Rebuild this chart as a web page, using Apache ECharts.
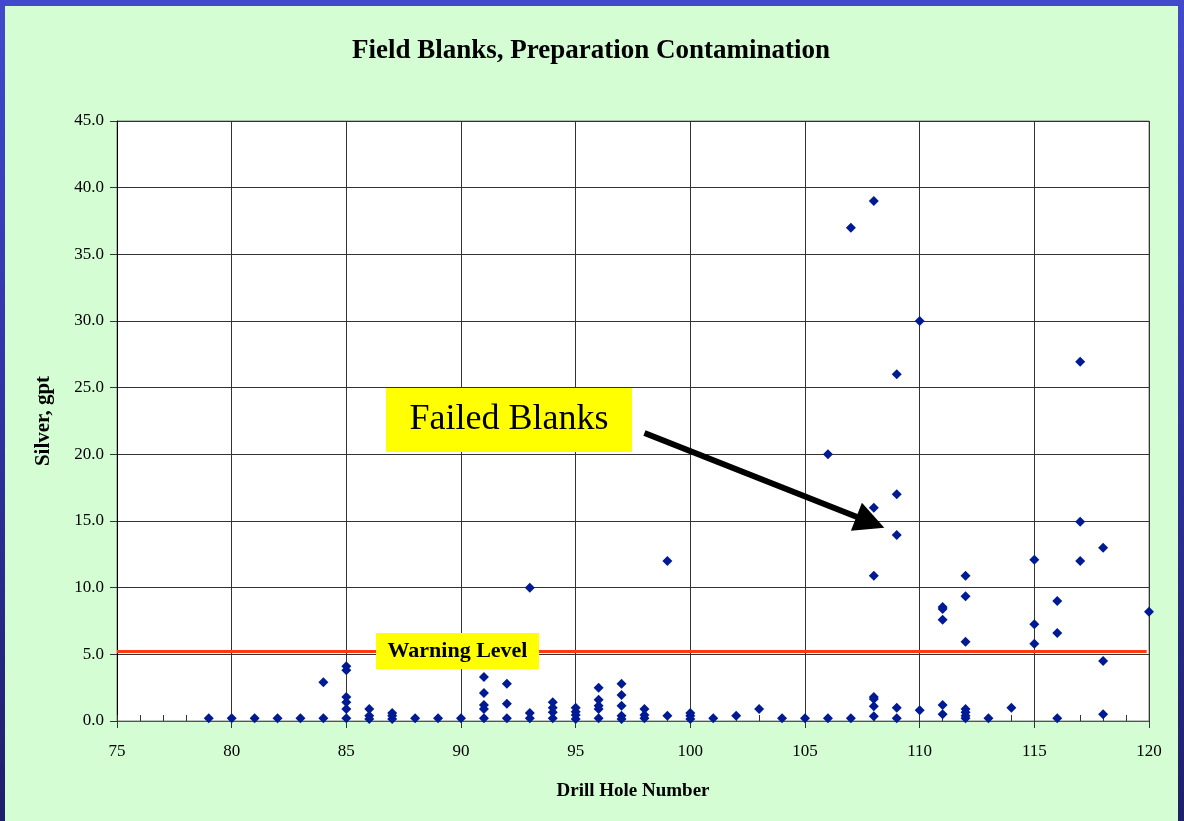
<!DOCTYPE html>
<html>
<head>
<meta charset="utf-8">
<script src="https://cdn.jsdelivr.net/npm/echarts@6/dist/echarts.min.js"></script>
<style>
  html, body { margin: 0; padding: 0; width: 1184px; height: 821px; overflow: hidden;
    background: linear-gradient(to bottom, #4249cc 0%, #3036a6 45%, #1e1f6a 100%); }
  #chart { position: absolute; left: 5px; top: 6px; width: 1173px; height: 815px; }
</style>
</head>
<body>
<div id="chart"></div>
<script>
// ---- data ----
const holeNumbers = [
  79, 80, 81, 82, 83,
  84, 84,
  85, 85, 85, 85, 85, 85,
  86, 86, 86,
  87, 87, 87,
  88, 89, 90,
  91, 91, 91, 91, 91,
  92, 92, 92,
  93, 93, 93,
  94, 94, 94, 94,
  95, 95, 95, 95,
  96, 96, 96, 96, 96,
  97, 97, 97, 97, 97,
  98, 98, 98,
  99, 99,
  100, 100, 100,
  101, 102, 103, 104, 105,
  106, 106,
  107, 107,
  108, 108, 108, 108, 108, 108, 108,
  109, 109, 109, 109, 109,
  110, 110,
  111, 111, 111, 111, 111,
  112, 112, 112, 112, 112, 112, 112,
  113, 114,
  115, 115, 115,
  116, 116, 116,
  117, 117, 117,
  118, 118, 118,
  120
];
const silverGpt = [
  0.2, 0.2, 0.2, 0.2, 0.2,
  2.9, 0.2,
  4.1, 3.8, 1.8, 1.4, 0.9, 0.2,
  0.9, 0.4, 0.15,
  0.6, 0.4, 0.15,
  0.2, 0.2, 0.2,
  3.3, 2.1, 1.2, 0.9, 0.2,
  2.8, 1.3, 0.2,
  10.0, 0.6, 0.2,
  1.4, 1.0, 0.65, 0.2,
  1.0, 0.7, 0.45, 0.15,
  2.5, 1.6, 1.15, 0.9, 0.2,
  2.8, 1.95, 1.15, 0.4, 0.15,
  0.9, 0.45, 0.2,
  12.0, 0.4,
  0.6, 0.4, 0.15,
  0.2, 0.4, 0.9, 0.2, 0.2,
  20.0, 0.2,
  37.0, 0.2,
  39.0, 16.0, 10.9, 1.8, 1.65, 1.1, 0.35,
  26.0, 17.0, 13.95, 1.0, 0.2,
  30.0, 0.8,
  8.55, 8.4, 7.6, 1.2, 0.5,
  10.9, 9.35, 5.95, 0.9, 0.65, 0.4, 0.2,
  0.2, 1.0,
  12.1, 7.25, 5.8,
  9.0, 6.6, 0.2,
  26.95, 14.95, 12.0,
  13.0, 4.5, 0.5,
  8.2
];
const warningLevel = 5.25;
const xTicks = [75, 80, 85, 90, 95, 100, 105, 110, 115, 120];
const yTicks = [0, 5, 10, 15, 20, 25, 30, 35, 40, 45];
const titleText = 'Field Blanks, Preparation Contamination';
const xName = 'Drill Hole Number';
const yName = 'Silver, gpt';
const arrowFrom = [98.0, 21.6];
const arrowTo = [107.85, 14.9];

// ---- chart ----
const points = holeNumbers.map((h, i) => [h, silverGpt[i]]);
const serif = '"Liberation Serif", "Times New Roman", serif';

const chart = echarts.init(document.getElementById('chart'), null, { renderer: 'canvas' });
chart.setOption({
  backgroundColor: '#d4fdd4',
  animation: false,
  title: {
    text: titleText,
    left: 581, top: 27, textAlign: 'center',
    textStyle: { fontFamily: serif, fontWeight: 'bold', fontSize: 27, color: '#000' }
  },
  grid: {
    left: 112, top: 115, width: 1032, height: 600,
    show: true, backgroundColor: '#ffffff', borderColor: '#808080', borderWidth: 1
  },
  xAxis: [{
    type: 'value',
    min: xTicks[0], max: xTicks[xTicks.length - 1], interval: 5,
    name: xName, nameLocation: 'middle', nameGap: 61,
    nameTextStyle: { fontFamily: serif, fontWeight: 'bold', fontSize: 19, color: '#000' },
    axisLine: { show: true, onZero: false, lineStyle: { color: '#555', width: 1 } },
    axisTick: { show: true, inside: false, length: 7, lineStyle: { color: '#333' } },
    axisLabel: { margin: 22, fontFamily: serif, fontSize: 17, color: '#000' },
    splitLine: { show: true, lineStyle: { color: '#333', width: 1 } }
  }, {
    type: 'value',
    min: xTicks[0], max: xTicks[xTicks.length - 1], interval: 1,
    position: 'bottom',
    axisLine: { show: false },
    axisTick: { show: true, inside: true, length: 6, lineStyle: { color: '#333' } },
    axisLabel: { show: false },
    splitLine: { show: false }
  }],
  yAxis: {
    type: 'value',
    min: yTicks[0], max: yTicks[yTicks.length - 1], interval: 5,
    name: yName, nameLocation: 'middle', nameGap: 63,
    nameTextStyle: { fontFamily: serif, fontWeight: 'bold', fontSize: 21, color: '#000' },
    axisLine: { show: true, onZero: false, lineStyle: { color: '#000', width: 1 } },
    axisTick: { show: true, inside: false, length: 7, lineStyle: { color: '#333' } },
    axisLabel: { margin: 13, fontFamily: serif, fontSize: 17, color: '#000',
      formatter: v => v.toFixed(1) },
    splitLine: { show: true, lineStyle: { color: '#333', width: 1 } }
  },
  series: [{
    type: 'scatter',
    xAxisIndex: 0,
    data: points,
    symbol: 'diamond',
    symbolSize: 10,
    itemStyle: { color: '#001a94', opacity: 1 },
    z: 5,
    markLine: {
      silent: true,
      animation: false,
      data: [
        [{ coord: [xTicks[0], warningLevel], symbol: 'none', lineStyle: { color: '#ff3a12', width: 3, type: 'solid' } },
         { coord: [119.9, warningLevel], symbol: 'none' }],
        [{ coord: arrowFrom, symbol: 'none', lineStyle: { color: '#000', width: 6, type: 'solid' } },
         { coord: arrowTo, symbol: 'triangle', symbolSize: [30, 30] }]
      ],
      label: { show: false },
      emphasis: { disabled: true }
    }
  }],
  graphic: [
    {
      type: 'group', left: 371, top: 627, zlevel: 2,
      children: [
        { type: 'rect', zlevel: 2, shape: { x: 0, y: 0, width: 163, height: 36 }, style: { fill: '#ffff00' } },
        { type: 'text', zlevel: 2, x: 81.5, y: 18, style: { text: 'Warning Level', fontFamily: serif, fontWeight: 'bold',
          fontSize: 22, fill: '#000', align: 'center', verticalAlign: 'middle' } }
      ]
    },
    {
      type: 'group', left: 381, top: 382, zlevel: 2,
      children: [
        { type: 'rect', zlevel: 2, shape: { x: 0, y: 0, width: 246, height: 64 }, style: { fill: '#ffff00' } },
        { type: 'text', zlevel: 2, x: 123, y: 32, style: { text: 'Failed Blanks', fontFamily: serif,
          fontSize: 36, fill: '#000', align: 'center', verticalAlign: 'middle' } }
      ]
    }
  ]
});
</script>
</body>
</html>
